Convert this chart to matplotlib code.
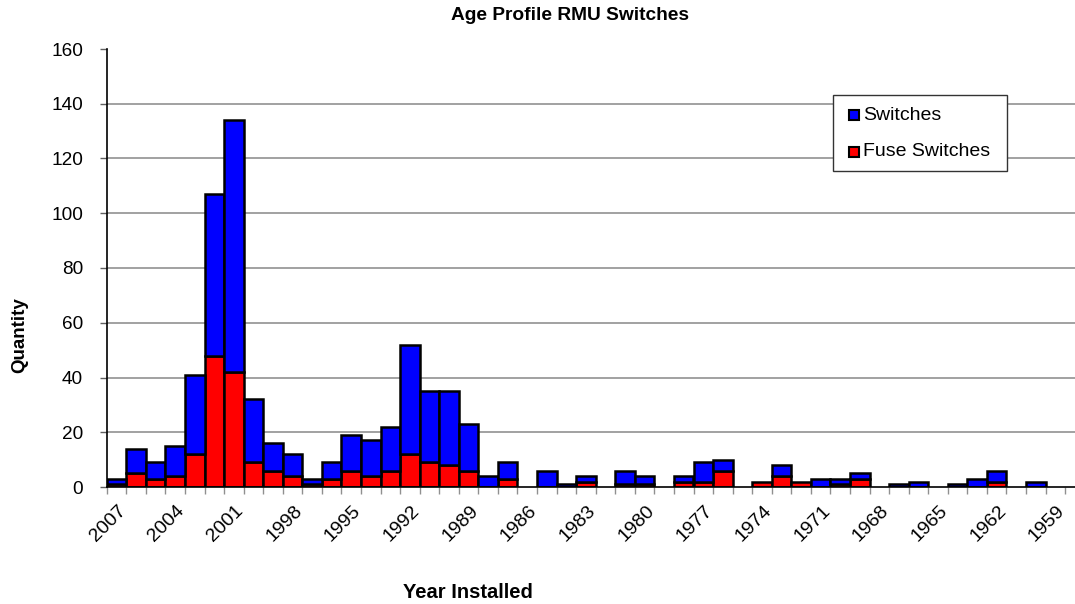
import numpy as np
import matplotlib
matplotlib.use("Agg")
import matplotlib.pyplot as plt
from matplotlib.patches import Rectangle
from matplotlib.transforms import ScaledTranslation

plt.rcParams['font.family'] = ['Liberation Sans', 'DejaVu Sans']

# Installation year of each RMU switch group (newest first)
years = list(range(2007, 1958, -1))

# Fuse switches (red, lower segment)
fuse = [1, 5, 3, 4, 12, 48, 42, 9, 6, 4,
        1, 3, 6, 4, 6, 12, 9, 8, 6, 0,
        3, 0, 0, 0, 2, 0, 1, 1, 0, 2,
        2, 6, 0, 2, 4, 2, 0, 1, 3, 0,
        0, 0, 0, 0, 0, 2, 0, 0, 0]

# Plain switches (blue, stacked on top)
switches = [2, 9, 6, 11, 29, 59, 92, 23, 10, 8,
            2, 6, 13, 13, 16, 40, 26, 27, 17, 4,
            6, 0, 6, 1, 2, 0, 5, 3, 0, 2,
            7, 4, 0, 0, 4, 0, 3, 2, 2, 0,
            1, 2, 0, 1, 3, 4, 0, 2, 0]

series_names = ['Switches', 'Fuse Switches']
series_colors = ['#0000FF', '#FF0000']
tick_labels = [str(y) for y in years[::3]]
y_ticks = list(range(0, 161, 20))

W, H = 1075, 604
fig = plt.figure(figsize=(W / 100, H / 100), dpi=100)
ax = fig.add_axes([106.7 / W, 117 / H, 978 / W, 438 / H])

x = np.arange(len(years))
fuse_a = np.array(fuse)
sw_a = np.array(switches)
lw_f = np.where(fuse_a > 0, 1.8, 0)
lw_s = np.where(sw_a > 0, 1.8, 0)

for yv in y_ticks[1:-1]:
    ax.axhline(yv, color='#9a9a9a', lw=1.3, zorder=0)

ax.bar(x, fuse_a, width=1.0, color=series_colors[1], edgecolor='black',
       linewidth=lw_f, zorder=2)
ax.bar(x, sw_a, bottom=fuse_a, width=1.0, color=series_colors[0],
       edgecolor='black', linewidth=lw_s, zorder=2)

ax.set_xlim(-0.5, len(years) + 0.5)
ax.set_ylim(0, 160)

for s in ('top', 'right'):
    ax.spines[s].set_visible(False)
for s in ('left', 'bottom'):
    ax.spines[s].set_color('black')
    ax.spines[s].set_linewidth(1.2)
    ax.spines[s].set_zorder(3)

ax.set_yticks(y_ticks)
ax.set_yticklabels([str(v) for v in y_ticks], fontsize=13.7)
ax.tick_params(axis='y', direction='out', length=5, width=1, color='#606060',
               pad=12)

ax.set_xticks(x[::3])
ax.set_xticklabels(tick_labels, fontsize=14, rotation=45, ha='right',
                   va='center', rotation_mode='anchor')
ax.set_xticks(np.arange(-0.5, len(years) + 1, 1.0), minor=True)
ax.tick_params(axis='x', which='major', length=0, pad=15)
ax.tick_params(axis='x', which='minor', direction='out', length=5, width=1,
               color='#909090')
offset = ScaledTranslation(7 / 100, 0, fig.dpi_scale_trans)
for lab in ax.get_xticklabels():
    lab.set_transform(lab.get_transform() + offset)

fig.text(570 / W, 1 - 15 / H, 'Age Profile RMU Switches', ha='center',
         va='center', fontsize=13.8, fontweight='bold')
fig.text(468 / W, 1 - 593 / H, 'Year Installed', ha='center', va='center',
         fontsize=14.5, fontweight='bold')
fig.text(20 / W, 1 - 335 / H, 'Quantity', ha='center', va='center',
         rotation=90, fontsize=13.5, fontweight='bold')

# Legend box drawn in pixel-based figure coordinates
def fx(px):
    return px / W


def fy(py):
    return 1 - py / H


fig.patches.append(Rectangle((fx(833), fy(171)), fx(1007) - fx(833),
                             fy(95) - fy(171), transform=fig.transFigure,
                             facecolor='white', edgecolor='#333333', lw=1.0,
                             zorder=5))
for i, (name, col) in enumerate(zip(series_names, series_colors)):
    cy = 115 + i * 37
    fig.patches.append(Rectangle((fx(849), fy(cy + 5)), fx(10), 10 / H,
                                 transform=fig.transFigure, facecolor=col,
                                 edgecolor='black', lw=1.5, zorder=6))
    fig.text(fx(863), fy(cy), name, ha='left', va='center', fontsize=14,
             zorder=7)

fig.savefig('out.png', dpi=100)
